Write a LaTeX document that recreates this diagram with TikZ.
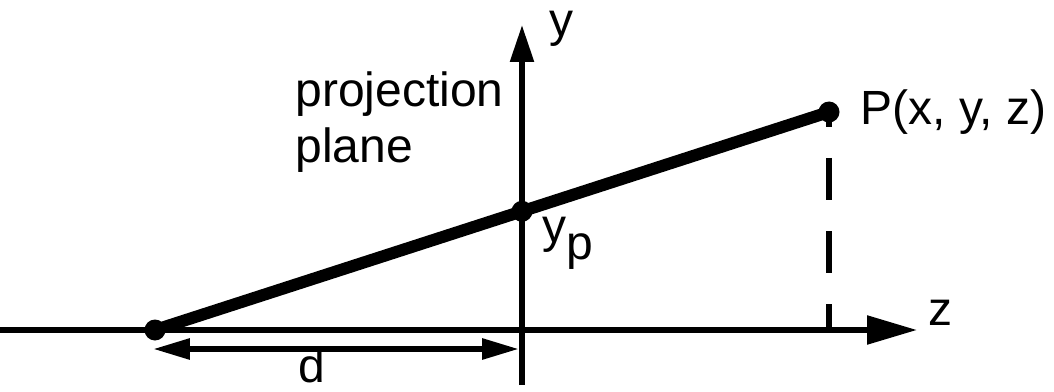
\documentclass[tikz,border=0pt]{standalone}
\usepackage{fontspec}
\setmainfont{Liberation Sans}
\usetikzlibrary{arrows.meta,calc}

\begin{document}
\begin{tikzpicture}[x=50pt,y=50pt,
    every node/.style={font=\fontsize{24}{28}\selectfont,inner sep=0pt},
    dot/.style={circle,fill,minimum size=10.5pt},
    axis/.style={line width=2.75pt},
    ray/.style={line width=6pt},
    >={Triangle[length=18.5pt,width=10pt]}]
  \useasboundingbox (-5.22,-0.61) rectangle (5.32,3.30);
  % axes
  \coordinate (zL) at (-5.22,0);
  \coordinate (zR) at (3.95,0);
  \coordinate (yB) at (0,-0.55);
  \coordinate (yT) at (0,3.05);
  \draw[axis,-{Triangle[length=25pt,width=14pt]}] (zL) -- (zR);
  \draw[axis,-{Triangle[length=18.5pt,width=11.5pt]}] (yB) -- (yT);
  \node[anchor=base] (ylab) at (0.39,2.93) {y};
  \node[anchor=base] (zlab) at (4.18,0.05) {z};
  % projection ray through the plane
  \node[dot] (eye) at (-3.67,0) {};
  \node[dot] (P) at (3.07,2.18) {};
  \draw[ray] (eye.center) -- (P.center);
  \node[dot] (yp) at ($(eye)!{3.67/6.74}!(P)$) {};
  \draw[line width=3pt,dash pattern=on 21pt off 15.5pt,dash phase=13.5pt]
    (P.center) -- (P |- zL);
  % labels
  \node[anchor=base west] (Plab) at (3.38,2.05) {P(x, y, z)};
  \node[anchor=base west] (proj) at (-2.27,2.23) {projection};
  \node[anchor=base west] (plane) at (-2.27,1.67) {plane};
  \node[anchor=base west] (yplab) at (0.20,0.88) {y\raisebox{-9pt}{p}};
  % distance d
  \coordinate (dL) at (-3.69,-0.19);
  \coordinate (dR) at (-0.03,-0.19);
  \draw[line width=3pt,<->] (dL) -- (dR);
  \node[anchor=base] (dlab) at (-2.10,-0.52) {d};
\end{tikzpicture}
\end{document}
